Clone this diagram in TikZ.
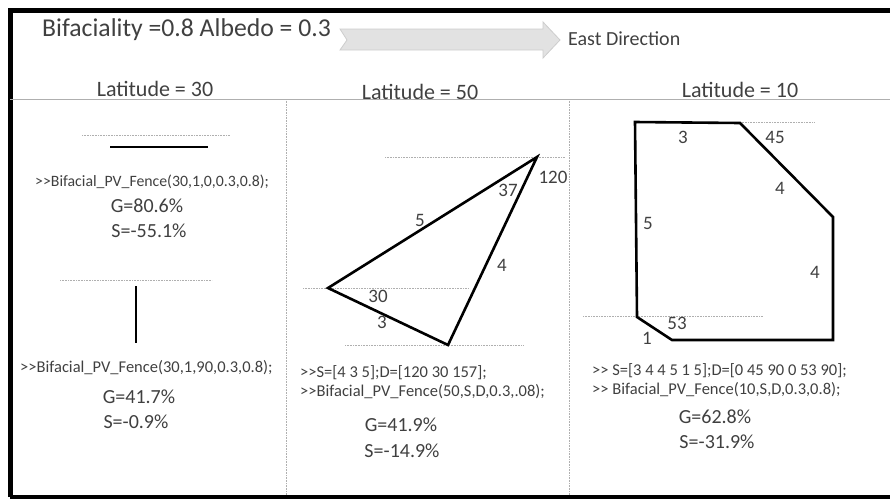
\documentclass[tikz,border=0pt]{standalone}
\usepackage{fontspec}
\setmainfont{Carlito}
\definecolor{txtgrey}{RGB}{64,64,64}
\definecolor{refgrey}{RGB}{175,175,175}
\definecolor{arrowfill}{RGB}{226,226,226}
\definecolor{arrowedge}{RGB}{205,205,205}
\begin{document}
\begin{tikzpicture}[x=1pt,y=1pt,yscale=-1,xscale=1,
  every node/.style={text=txtgrey,inner sep=0pt},
  title/.style={font=\fontsize{25.7}{30}\selectfont,anchor=base west},
  lathead/.style={font=\fontsize{22}{26}\selectfont,anchor=base},
  cmd/.style={font=\fontsize{16.5}{19}\selectfont,anchor=base west},
  result/.style={font=\fontsize{20}{24}\selectfont,anchor=base},
  side/.style={font=\fontsize{19}{22}\selectfont},
  refline/.style={refgrey,line width=0.7pt,dash pattern={on 1pt off 0.6pt}},
  panel/.style={black,line width=2.6pt}]
\useasboundingbox (0,0) rectangle (890,499);

%Frame
\draw [white] (0,0) rectangle (890,499);
\draw [black,line width=5pt] (10,497) -- (10,10) -- (900,10) ;
\draw [black,line width=4pt] (10,497) -- (900,497) ;

% Text Node
\node [title] (bifac) at (42,36) {Bifaciality =0.8 Albedo = 0.3};
%Block arrow
\draw [arrowedge,fill=arrowfill,line width=0.8pt] (340,29) -- (543,29) -- (543,22) -- (560,40) -- (543,58) -- (543,50) -- (340,50) -- (347,40) -- cycle ;
% Text Node
\node [font=\fontsize{20}{24}\selectfont,anchor=base west] (east) at (568,45) {East Direction};

%Column rules
\draw [refgrey,line width=0.8pt] (10,99) -- (890,99) ;
\draw [refline] (286,99) -- (286,495) ;
\draw [refline] (569,99) -- (569,495) ;

% Text Node
\node [lathead] (lat30) at (155,96) {Latitude = 30};
\node [lathead] (lat50) at (420,99) {Latitude = 50};
\node [lathead] (lat10) at (740,97) {Latitude = 10};

%Latitude 30, flat panel
\draw [refline] (82,135) -- (230,135) ;
\draw [panel] (110,147) -- (208,147) ;
\node [cmd,font=\fontsize{15.8}{19}\selectfont] (cmdA) at (35,186) {>{}>Bifacial\_PV\_Fence(30,1,0,0.3,0.8);};
\node [result] (gA) at (147,212) {G=80.6\%};
\node [result] (sA) at (149,237) {S=-55.1\%};

%Latitude 30, vertical panel
\draw [refline] (60,280) -- (212,280) ;
\draw [panel] (136,286) -- (136,343) ;
\node [cmd] (cmdB) at (20,372) {>{}>Bifacial\_PV\_Fence(30,1,90,0.3,0.8);};
\node [result] (gB) at (139,403) {G=41.7\%};
\node [result] (sB) at (136,428) {S=-0.9\%};

%Latitude 50, triangle
\draw [refline] (385,157) -- (565,157) ;
\draw [refline] (303,288) -- (468,288) ;
\draw [refline] (345,345) -- (523,345) ;
\draw [panel,line join=miter] (537,157) -- (328,288) -- (448,345) -- cycle ;
\node [side] (t5) at (420,220) {5};
\node [side] (t37) at (508,190) {37};
\node [side] (t120) at (553,177) {120};
\node [side] (t4) at (502,265) {4};
\node [side] (t30) at (378,296) {30};
\node [side] (t3) at (382,322) {3};
\node [cmd] (cmdC) at (300,377) {>{}>S=[4 3 5];D=[120 30 157];};
\node [cmd] (cmdD) at (300,396) {>{}>Bifacial\_PV\_Fence(50,S,D,0.3,.08);};
\node [result] (gC) at (401,431) {G=41.9\%};
\node [result] (sC) at (402,457) {S=-14.9\%};

%Latitude 10, polygon
\draw [refline] (740,122) -- (815,122) ;
\draw [refline] (583,316) -- (763,316) ;
\draw [panel,line join=miter] (635,122) -- (740,123) -- (833,217) -- (833,340) -- (672,340) -- (637,317) -- cycle ;
\node [side] (p3) at (683,137) {3};
\node [side] (p45) at (775,137) {45};
\node [side] (p4a) at (780,188) {4};
\node [side] (p5) at (648,223) {5};
\node [side] (p4b) at (815,272) {4};
\node [side] (p53) at (677,323) {53};
\node [side] (p1) at (647,338) {1};
\node [cmd] (cmdE) at (592,375) {>{}> S=[3 4 4 5 1 5];D=[0 45 90 0 53 90];};
\node [cmd] (cmdF) at (592,394) {>{}> Bifacial\_PV\_Fence(10,S,D,0.3,0.8);};
\node [result] (gD) at (715,423) {G=62.8\%};
\node [result] (sD) at (717,448) {S=-31.9\%};

\end{tikzpicture}
\end{document}
